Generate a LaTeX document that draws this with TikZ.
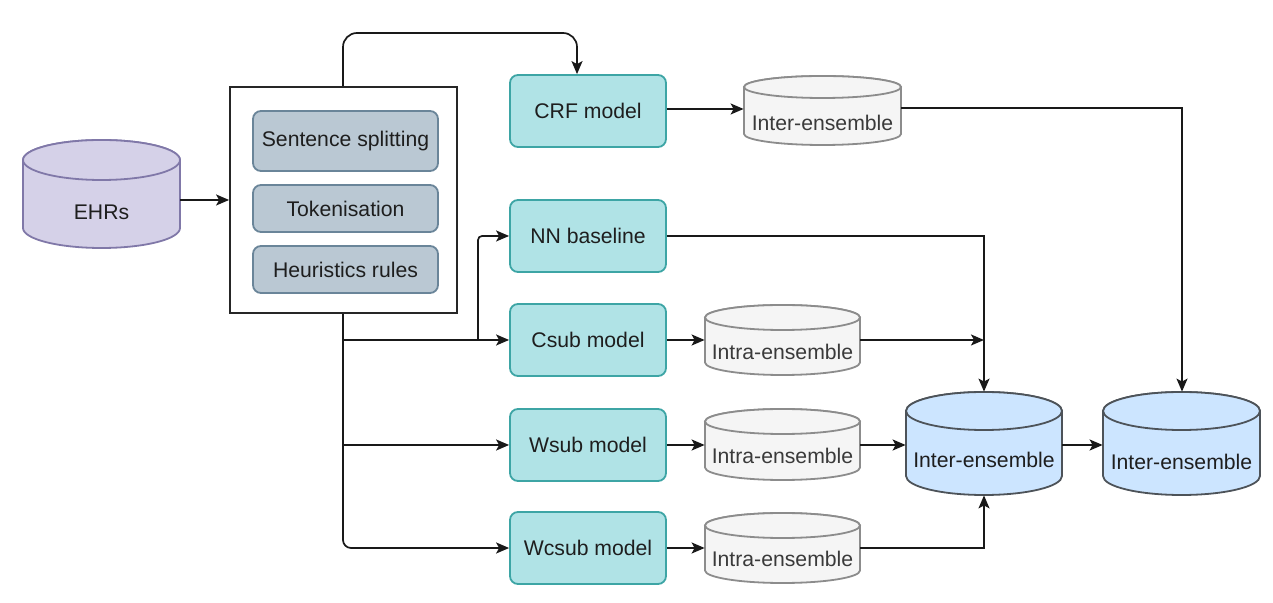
\documentclass[tikz,border=0pt]{standalone}
\usepackage{fontspec}
\setmainfont{Liberation Sans}
\usetikzlibrary{arrows.meta,fit}
\definecolor{tealfill}{HTML}{B0E3E6}
\definecolor{tealdraw}{HTML}{3DA5A5}
\definecolor{stepfill}{HTML}{BAC8D3}
\definecolor{stepdraw}{HTML}{6A8599}
\definecolor{lavfill}{HTML}{D5D1E8}
\definecolor{lavdraw}{HTML}{8078A8}
\definecolor{grayfill}{HTML}{F5F5F5}
\definecolor{graydraw}{HTML}{8C8C8C}
\definecolor{bluefill}{HTML}{CCE5FF}
\definecolor{bluedraw}{HTML}{4D5359}
\definecolor{txt}{HTML}{1E1E1E}
\definecolor{graytxt}{HTML}{3A3A3A}
\newcommand\dbcyl[6]{% name, x1, x2, ytop, ybot, ry ; style in cylstyle
  \pgfmathsetmacro\cylcx{(#2+#3)/2}
  \pgfmathsetmacro\cylrx{(#3-#2)/2}
  \pgfmathsetmacro\cylyt{#4+#6}
  \pgfmathsetmacro\cylyb{#5-#6}
  \path[cylstyle] (#2,\cylyt) -- (#2,\cylyb)
     arc[start angle=180,end angle=0,x radius=\cylrx,y radius=#6]
     -- (#3,\cylyt)
     arc[start angle=0,end angle=-180,x radius=\cylrx,y radius=#6] -- cycle;
  \draw[cylstyle] (\cylcx,\cylyt) ellipse[x radius=\cylrx,y radius=#6];
  \node[fit={(#2,#4) (#3,#5)},inner sep=0pt] (#1) {};
}
\begin{document}
\begin{tikzpicture}[x=0.5pt,y=-0.5pt,
  every node/.style={font=\fontsize{10.6}{12}\selectfont,text=txt},
  model/.style={draw=tealdraw,fill=tealfill,line width=0.9pt,rounded corners=4pt,
    minimum width=78pt,minimum height=36pt,inner sep=0pt},
  stepbox/.style={draw=stepdraw,fill=stepfill,line width=0.9pt,rounded corners=4pt,
    minimum width=92.5pt,inner sep=0pt},
  conn/.style={line width=0.85pt,draw=black!90},
  arr/.style={conn,-{Stealth[length=6.5pt,width=5.5pt,inset=1.5pt]}},
  lavcyl/.style={draw=lavdraw,fill=lavfill,line width=0.9pt},
  graycyl/.style={draw=graydraw,fill=grayfill,line width=0.9pt},
  bluecyl/.style={draw=bluedraw,fill=bluefill,line width=0.9pt},
  gtext/.style={text=graytxt}]
\useasboundingbox (0,0) rectangle (1273,603);

% EHRs
\tikzset{cylstyle/.style={lavcyl}}
\dbcyl{ehr}{23}{180}{140}{248}{20}
\node (ehrt) at (101.5,212) {EHRs};

% preprocessing box
\node[draw=black!85,line width=0.9pt,fill=white,minimum width=113.5pt,minimum height=113pt,inner sep=0pt] (pre) at (343.5,200) {};
\node[stepbox,minimum height=30pt] (ss) at (345.5,141) {Sentence splitting};
\node[stepbox,minimum height=23.5pt] (tok) at (345.5,208.5) {Tokenisation};
\node[stepbox,minimum height=23.5pt] (heu) at (345.5,269.5) {Heuristics rules};

% models
\node[model] (crf) at (588,111) {CRF model};
\node[model] (nn) at (588,236) {NN baseline};
\node[model] (csub) at (588,340) {Csub model};
\node[model] (wsub) at (588,445) {Wsub model};
\node[model] (wcsub) at (588,548) {Wcsub model};

% gray cylinders
\tikzset{cylstyle/.style={graycyl}}
\dbcyl{crfe}{744}{901}{76}{145}{11}
\node[gtext] (crfet) at (822.5,123) {Inter-ensemble};
\dbcyl{csube}{705}{860}{305}{375}{12.5}
\node[gtext] (csubet) at (782.5,352) {Intra-ensemble};
\dbcyl{wsube}{705}{860}{409}{480}{12.5}
\node[gtext] (wsubet) at (782.5,456) {Intra-ensemble};
\dbcyl{wcsube}{705}{860}{513}{583}{12.5}
\node[gtext] (wcsubet) at (782.5,559) {Intra-ensemble};

% blue cylinders
\tikzset{cylstyle/.style={bluecyl}}
\dbcyl{inter1}{906}{1062}{392}{495}{19}
\node (inter1t) at (984,460) {Inter-ensemble};
\dbcyl{inter2}{1103}{1260}{392}{495}{19}
\node (inter2t) at (1181.5,462) {Inter-ensemble};

% coordinates
\coordinate (trunk) at (343,313);
\coordinate (nnsplit) at (478,340);
\coordinate (join1) at (984,340);

% connectors
\draw[arr] (ehr.east |- 0,200) -- (pre.west |- 0,200);
\draw[arr,rounded corners=7pt] (pre.north -| trunk) -- (343,33) -- (577,33) -- (crf.north -| 577,0);
\draw[arr] (crf.east |- 0,109) -- (crfe.west |- 0,109);
\draw[arr] (crfe.east |- 0,108) -- (1182,108) -- (inter2.north -| 1182,0);

\draw[arr,rounded corners=4pt] (pre.south -| trunk) -- (trunk |- wcsub.west) -- (wcsub.west);
\draw[arr] (trunk |- csub.west) -- (csub.west);
\draw[arr] (trunk |- wsub.west) -- (wsub.west);
\draw[arr,rounded corners=2pt] (nnsplit) -- (nnsplit |- nn.west) -- (nn.west);

\draw[arr] (csub.east) -- (csube.west |- csub.east);
\draw[arr] (wsub.east) -- (wsube.west |- wsub.east);
\draw[arr] (wcsub.east) -- (wcsube.west |- wcsub.east);

\draw[arr] (nn.east) -- (984,236) -- (inter1.north);
\draw[arr] (csube.east |- join1) -- (join1);
\draw[arr] (wsube.east |- 0,445) -- (inter1.west |- 0,445);
\draw[arr] (wcsube.east |- 0,548) -- (984,548) -- (inter1.south);
\draw[arr] (inter1.east |- 0,445) -- (inter2.west |- 0,445);
\end{tikzpicture}
\end{document}
